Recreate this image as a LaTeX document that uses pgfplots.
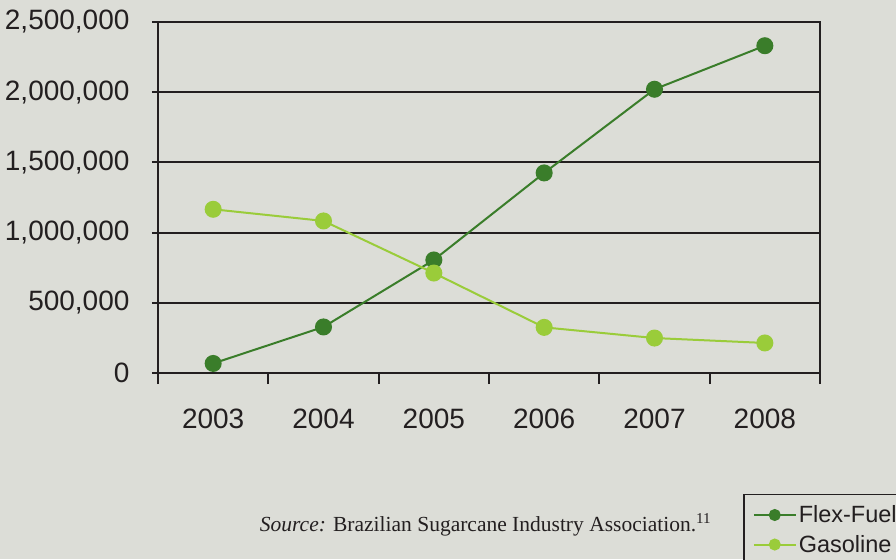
\documentclass[border=0pt]{standalone}
\usepackage{pgfplots}
\pgfplotsset{compat=1.18}
\usepackage{fontspec}
\setmainfont{Liberation Sans}
\newfontfamily\srcfont{Liberation Serif}

\definecolor{bg}{RGB}{220,221,215}
\definecolor{axisc}{RGB}{35,31,32}
\definecolor{flex}{RGB}{58,125,42}
\definecolor{gas}{RGB}{154,204,58}

\begin{document}
\begin{tikzpicture}[x=1pt,y=1pt]
\fill[bg] (0,0) rectangle (896,559);
\useasboundingbox (0,0) rectangle (896,559);
\clip (0,0) rectangle (896,559);
\begin{axis}[
    at={(158pt,186pt)}, anchor=south west,
    width=662pt, height=351pt, scale only axis,
    xmin=-0.5, xmax=5.5,
    ymin=0, ymax=2500000,
    xtick={0,...,5},
    xticklabels={2003,2004,2005,2006,2007,2008},
    major x tick style={draw=none},
    minor xtick={-0.5,0.5,...,5.5},
    ytick={0,500000,...,2500000},
    yticklabels={0,{500,000},{1,000,000},{1,500,000},{2,000,000},{2,500,000}},
    scaled y ticks=false,
    tick pos=left,
    tick align=outside,
    major tick length=6pt,
    minor tick length=11pt,
    tick style={line width=2pt, color=axisc},
    ymajorgrids,
    grid style={line width=2pt, color=axisc},
    axis line style={line width=2pt, color=axisc},
    tick label style={font=\fontsize{28}{32}\selectfont, text=axisc},
    yticklabel style={xshift=-19pt},
    xticklabel style={yshift=-26pt},
    clip=false,
    legend cell align=left,
    legend style={
        at={(0.8837,-0.3447)}, anchor=north west,
        fill=bg, draw=axisc, line width=1.5pt,
        font=\fontsize{23.5}{28}\selectfont,
        inner xsep=9pt, inner ysep=9pt, row sep=7pt,
        nodes={text=axisc},
    },
    legend image code/.code={
        \draw[#1, mark=none] (0pt,0pt) -- (42pt,0pt);
        \draw[#1, mark size=5pt] plot[only marks] coordinates {(21pt,0pt)};
    },
]
\addplot[flex, line width=2pt, mark=*, mark size=7.5pt, mark options={solid, fill=flex, draw=flex}]
    coordinates {(0,68000) (1,328000) (2,805000) (3,1425000) (4,2021000) (5,2331000)};
\addlegendentry{Flex-Fuel}
\addplot[gas, line width=2pt, mark=*, mark size=7.5pt, mark options={solid, fill=gas, draw=gas}]
    coordinates {(0,1166000) (1,1083000) (2,712000) (3,325000) (4,249000) (5,214000)};
\addlegendentry{Gasoline}
\end{axis}
\node[font=\srcfont\fontsize{21.5}{26}\selectfont, text=axisc] at (485.5,34)
    {\textit{Source:} Brazilian Sugarcane Industry Association.\textsuperscript{11}};
\end{tikzpicture}
\end{document}
